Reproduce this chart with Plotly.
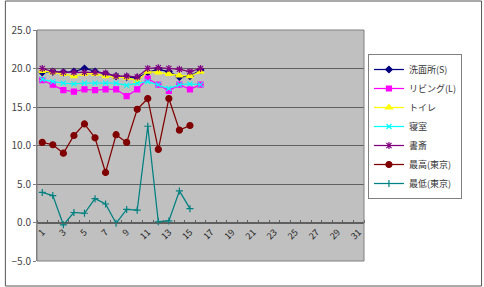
import plotly.graph_objects as go

days_in = list(range(1, 17))
days_out = list(range(1, 16))

senmen = [19.5, 19.6, 19.5, 19.6, 20.0, 19.6, 19.3, 19.0, 18.9, 18.8, 19.5, 19.9, 19.6, 18.9, 19.0, 19.8]
living = [18.5, 17.9, 17.2, 17.0, 17.3, 17.2, 17.3, 17.3, 16.4, 17.3, 18.7, 17.9, 17.1, 17.9, 17.3, 17.9]
toilet = [19.7, 19.5, 19.3, 19.0, 19.3, 19.3, 19.0, 18.9, 18.8, 18.4, 19.6, 19.5, 19.3, 19.1, 19.0, 19.6]
shinshitsu = [18.6, 18.3, 18.1, 18.0, 18.1, 18.1, 18.1, 18.1, 17.8, 18.1, 18.3, 17.9, 17.4, 17.9, 18.0, 17.9]
shosai = [20.0, 19.6, 19.5, 19.5, 19.5, 19.5, 19.4, 19.0, 19.0, 18.9, 20.0, 20.1, 20.0, 19.9, 19.6, 20.0]
tokyo_max = [10.4, 10.1, 9.0, 11.3, 12.8, 11.0, 6.5, 11.4, 10.4, 14.7, 16.1, 9.5, 16.1, 12.0, 12.6]
tokyo_min = [3.9, 3.5, -0.3, 1.3, 1.2, 3.1, 2.4, -0.1, 1.7, 1.6, 12.5, 0.1, 0.2, 4.1, 1.8]

names = ["洗面所(S)", "リビング(L)", "トイレ", "寝室", "書斎", "最高(東京)", "最低(東京)"]
x_tick_vals = list(range(1, 32, 2))
x_tick_text = [str(v) for v in x_tick_vals]

series = [
    (names[0], days_in, senmen, "#000080", "diamond", 5),
    (names[1], days_in, living, "#FF00FF", "square", 5),
    (names[2], days_in, toilet, "#FFFF00", "triangle-up", 6),
    (names[3], days_in, shinshitsu, "#00FFFF", "x-thin-open", 5),
    (names[4], days_in, shosai, "#800080", "asterisk-open", 6),
    (names[5], days_out, tokyo_max, "#800000", "circle", 6),
    (names[6], days_out, tokyo_min, "#008080", "cross-thin-open", 5),
]

fig = go.Figure()
for name, xs, ys, col, sym, sz in series:
    fig.add_trace(go.Scatter(
        x=xs, y=ys, name=name, mode="lines+markers",
        line=dict(color=col, width=1.25),
        marker=dict(symbol=sym, size=sz, color=col, line=dict(color=col, width=1.2)),
    ))

W, H = 484, 287
L, R, T, B = 33, 120, 30, 26
pw, ph = W - L - R, H - T - B

fig.update_layout(
    width=W, height=H,
    margin=dict(l=L, r=R, t=T, b=B, pad=0),
    paper_bgcolor="white",
    plot_bgcolor="#C0C0C0",
    font=dict(family="Noto Sans CJK JP", size=10, color="#333333"),
    showlegend=True,
    legend=dict(
        x=(368 - L) / pw, y=1 - (126.5 - T) / ph, xanchor="left", yanchor="middle",
        bgcolor="white", bordercolor="#808080", borderwidth=1,
        font=dict(size=9, color="#333333"), tracegroupgap=0, itemwidth=30,
    ),
    xaxis=dict(
        range=[0.5, 31.5], anchor="free", position=5 / 30,
        tickvals=x_tick_vals, ticktext=x_tick_text, tickangle=-45,
        ticks="", showgrid=False, zeroline=False,
        showline=True, linecolor="#606060", linewidth=1,
        tickfont=dict(size=9, color="#222222"),
        minor=dict(tick0=0.5, dtick=1, ticks="inside", ticklen=3, tickcolor="#606060", showgrid=False),
    ),
    yaxis=dict(
        range=[-5, 25], dtick=5, tickformat=".1f",
        showgrid=True, gridcolor="#606060", gridwidth=1,
        zeroline=False, showline=True, linecolor="#808080",
        ticks="outside", ticklen=3, tickcolor="#808080",
        tickfont=dict(size=10, color="#444444"),
    ),
    shapes=[
        dict(type="rect", xref="paper", yref="paper", x0=0, x1=1, y0=0, y1=1,
             line=dict(color="#808080", width=1), fillcolor="rgba(0,0,0,0)", layer="above"),
        dict(type="rect", xref="paper", yref="paper",
             x0=-(L - 1) / pw, x1=(W - L - 1) / pw, y0=-(B - 1) / ph, y1=(H - B - 1) / ph,
             line=dict(color="#555555", width=1), fillcolor="rgba(0,0,0,0)"),
    ],
)

fig.write_html("out.html")
